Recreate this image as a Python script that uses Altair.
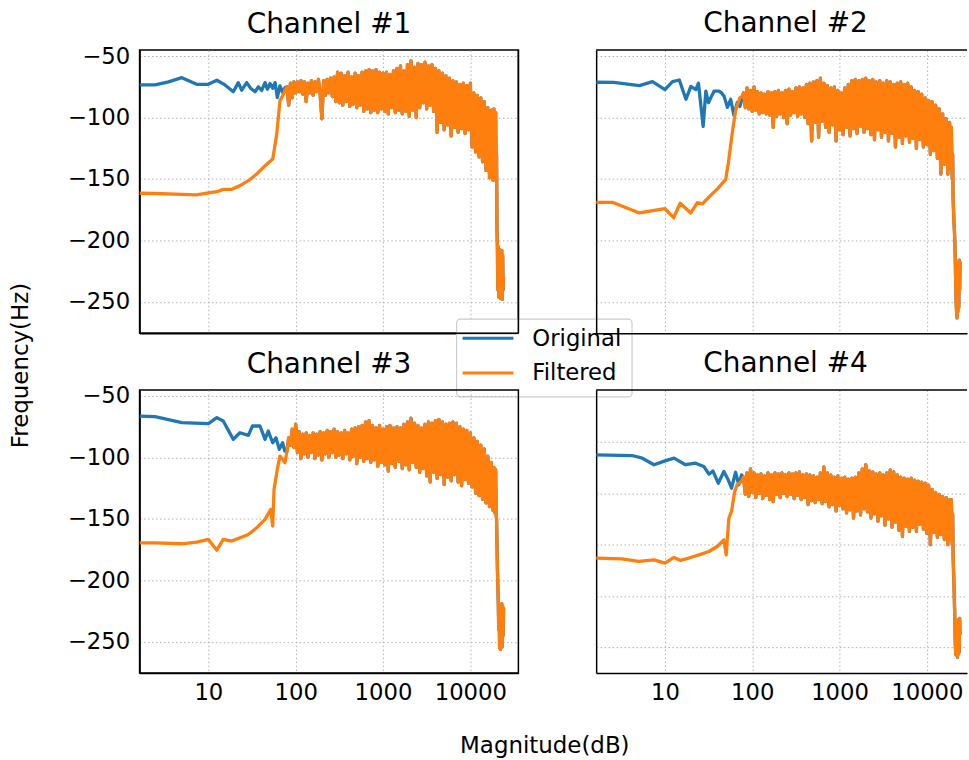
import altair as alt
import pandas as pd

# ---------------- data ----------------
SERIES = ["Original", "Filtered"]
COLORS = ["#1f77b4", "#ff7f0e"]
TITLES = ["Channel #1", "Channel #2", "Channel #3", "Channel #4"]
X_TICKS = [10, 100, 1000, 10000]
Y_TICKS = [-250, -200, -150, -100, -50]

# shared frequency grid of the dense band (Hz)
GRID_F = [79.43, 83.18, 87.10, 91.20, 95.50, 100.0, 104.7, 109.6, 114.8, 120.2,
          125.9, 131.8, 138.0, 144.5, 151.4, 158.5, 166.0, 173.8, 182.0, 190.5,
          199.5, 208.9, 218.8, 229.1, 239.9, 251.2, 263.0, 275.4, 288.4, 302.0,
          316.2, 331.1, 346.7, 363.1, 380.2, 398.1, 416.9, 436.5, 457.1, 478.6,
          501.2, 524.8, 549.5, 575.4, 602.6, 631.0, 660.7, 691.8, 724.4, 758.6,
          794.3, 831.8, 871.0, 912.0, 955.0, 1000, 1047, 1096, 1148, 1202,
          1259, 1318, 1380, 1445, 1514, 1585, 1660, 1738, 1820, 1905,
          1995, 2089, 2188, 2291, 2399, 2512, 2630, 2754, 2884, 3020,
          3162, 3311, 3467, 3631, 3802, 3981, 4169, 4365, 4571, 4786,
          5012, 5248, 5495, 5754, 6026, 6310, 6607, 6918, 7244, 7586,
          7943, 8318, 8710, 9120, 9550, 10000, 10471, 10965, 11482, 12023,
          12589, 13183, 13804, 14454, 15136, 15849, 16596, 17378, 18197]
# frequencies of the steep roll-off near Nyquist (Hz)
TAIL_F = [18621, 19055, 19498, 19724, 19953, 20184, 20417, 20654, 20893, 21135,
          21380, 21627, 21878, 22131, 22387, 22646, 22909, 23174, 23442, 23714, 23988]

# ---- Channel 1 ----
CH1_ORIG_F = [1.63, 2.45, 3.5, 4.96, 7.35, 10, 12.5, 15.5, 19.3, 22, 24.1, 27.5, 30.5,
              34.2, 37.4, 40.8, 44.6, 47.4, 50.9, 54.6, 58, 61.6, 66, 71, 75.4]
CH1_ORIG = [-73.5, -73.5, -71, -67.6, -73, -73, -69.7, -73.5, -79, -71.6, -77.8, -71.6, -76.2,
            -79, -75, -78, -71.6, -77, -72.4, -76.2, -71.6, -83.8, -74.3, -79.7, -75.7]
CH1_FILT_F = [1.63, 2.45, 4.96, 7.35, 10, 13, 14.8, 18.5, 23.1, 28.7, 35.8, 44.6, 54.6,
              60.7, 66, 71, 75.4]
CH1_FILT = [-161.6, -161.8, -162.5, -163, -161.4, -160, -158.4, -158.4, -155.4, -151.4, -146,
            -139.2, -133.8, -113.5, -86.5, -82.4, -78]
CH1_BAND = [-75, -90, -72, -84, -71, -80, -71, -79, -70, -81,
            -71, -87, -72, -80, -70, -82, -71, -79, -69, -81,
            -101, -70, -82, -69, -80, -68, -83, -67, -87, -63,
            -88, -64, -90, -66, -87, -63, -91, -67, -89, -64,
            -92, -66, -90, -63, -95, -62, -93, -61, -96, -62,
            -94, -61, -96, -63, -93, -64, -95, -63, -97, -65,
            -92, -62, -96, -60, -94, -58, -97, -62, -95, -57,
            -99, -54, -94, -59, -100, -56, -92, -57, -88, -55,
            -93, -58, -90, -57, -95, -60, -112, -62, -104, -64,
            -110, -66, -106, -68, -115, -70, -108, -71, -112, -73,
            -109, -72, -113, -74, -110, -72, -124, -80, -128, -82,
            -132, -84, -136, -87, -143, -92, -149, -94, -151]
CH1_TAIL = [-93, -150, -96, -151, -130, -190, -206, -240, -205, -246, -207, -244, -209,
            -247, -210, -245, -208, -248, -212, -240, -230]

# ---- Channel 2 ----
CH2_ORIG_F = [1.63, 2.6, 5.1, 7.2, 10, 12.2, 14.6, 17.4, 19.8, 22.6, 24.2, 27.4, 29.4,
              31.5, 33.5, 36.5, 41.7, 44.5, 47.5, 51.9, 56.6, 61.7, 67.4, 72, 76.9]
CH2_ORIG = [-71.3, -71.5, -74, -70.8, -77.3, -70.8, -69.5, -85.2, -74.7, -77.3, -72.1, -107.3,
            -78.6, -88, -83.9, -78.6, -78.6, -80, -82.6, -91.7, -85.2, -98.2, -87.8, -91, -83.9]
CH2_FILT_F = [1.63, 2.5, 5.1, 10, 12.6, 14.9, 19.8, 23.5, 26.9, 32, 39.9, 49.7, 53.5,
              59, 64.5, 72, 76.9]
CH2_FILT = [-169, -169, -177.6, -174.2, -181.5, -169.8, -177.6, -169.3, -170.3, -164.6, -158,
            -150.3, -136, -112.5, -94.3, -84, -82.6]
CH2_BAND = [-80, -92, -76, -93, -78, -95, -75, -94, -79, -97,
            -80, -96, -81, -97, -79, -98, -80, -108, -79, -99,
            -78, -97, -80, -100, -78, -105, -77, -98, -79, -96,
            -76, -99, -75, -97, -76, -100, -73, -105, -72, -119,
            -71, -104, -70, -116, -68, -103, -72, -108, -74, -112,
            -76, -106, -75, -119, -78, -110, -80, -114, -76, -108,
            -73, -115, -70, -109, -69, -113, -70, -107, -69, -112,
            -68, -109, -70, -114, -69, -118, -71, -110, -70, -116,
            -72, -112, -70, -119, -71, -113, -73, -124, -72, -116,
            -71, -121, -73, -115, -72, -120, -75, -117, -78, -125,
            -79, -118, -81, -124, -84, -122, -86, -130, -87, -127,
            -90, -133, -93, -146, -97, -138, -101, -146, -104]
CH2_TAIL = [-140, -108, -150, -130, -165, -175, -185, -192, -200, -215, -235, -250, -258,
            -263, -250, -258, -218, -255, -216, -240, -217]

# ---- Channel 3 ----
CH3_ORIG_F = [1.63, 2.45, 4.96, 10, 12.5, 14.8, 19.3, 23, 28.7, 32, 39, 44.6, 48.5,
              54.5, 59.5, 64.9, 70.8, 75]
CH3_ORIG = [-66.3, -66.8, -71.7, -72.5, -67.6, -70.4, -85.3, -79.9, -82, -74.4, -74.4, -85.3,
            -78.5, -88, -84, -93.4, -88, -94.8]
CH3_FILT_F = [1.63, 2.45, 4.96, 7.35, 10, 12.5, 14.8, 18.5, 23.1, 28.7, 35.8, 44.6, 51.6,
              54.6, 56.5, 61.6, 66, 71, 75.4]
CH3_FILT = [-169.4, -169.4, -170.2, -168.9, -166.7, -175.4, -166.7, -168, -165.3, -162.6,
            -157.2, -150.4, -142.3, -155.8, -126, -109.7, -98.9, -101.6, -104.3]
CH3_BAND = [-95, -84, -90, -77, -92, -73, -96, -79, -101, -81,
            -97, -80, -100, -82, -96, -80, -101, -81, -98, -79,
            -102, -80, -97, -78, -100, -79, -96, -77, -100, -79,
            -98, -80, -101, -78, -97, -80, -102, -77, -99, -76,
            -105, -75, -100, -74, -103, -71, -101, -70, -104, -74,
            -102, -76, -107, -74, -104, -77, -106, -75, -111, -74,
            -105, -76, -108, -75, -103, -76, -109, -73, -106, -71,
            -110, -68, -104, -72, -108, -74, -112, -76, -109, -73,
            -115, -71, -120, -72, -112, -70, -117, -69, -114, -71,
            -122, -73, -116, -72, -119, -71, -114, -72, -120, -75,
            -123, -77, -118, -78, -121, -80, -124, -84, -129, -87,
            -131, -90, -134, -93, -137, -99, -140, -104, -143]
CH3_TAIL = [-108, -145, -110, -146, -150, -170, -190, -205, -218, -240, -222, -255, -220,
            -256, -225, -250, -219, -254, -221, -245, -222]

# ---- Channel 4 ----
CH4_ORIG_F = [1.63, 4.2, 5.5, 7.5, 10, 12.7, 17.2, 22.4, 27.9, 31.9, 35.4, 40.8, 47.3,
              53, 57.9, 64.4, 70.1, 75.3]
CH4_ORIG = [-62.4, -63, -65.6, -72, -68.2, -65.6, -72, -70.5, -73.7, -81.2, -78, -90, -78.6,
            -86.7, -94.9, -79.3, -91.6, -81.9]
CH4_FILT_F = [1.63, 3.2, 5.0, 7.5, 10, 12.7, 15.1, 18.8, 24.5, 31.9, 39.7, 47.3, 50.3,
              54, 57.9, 63, 67, 75.3]
CH4_FILT = [-163.2, -163.8, -166.4, -164.8, -168, -162.5, -165.4, -163, -160, -156.7, -151.8,
            -145.3, -160, -124, -117.6, -98, -91.6, -88.4]
CH4_BAND = [-84, -101, -80, -103, -76, -99, -80, -104, -82, -100,
            -81, -105, -83, -102, -80, -106, -82, -108, -80, -101,
            -81, -104, -80, -100, -82, -103, -80, -101, -81, -105,
            -80, -102, -79, -106, -82, -104, -81, -111, -82, -107,
            -83, -109, -84, -106, -80, -110, -74, -108, -80, -113,
            -82, -111, -84, -117, -83, -112, -85, -115, -84, -119,
            -86, -116, -85, -124, -84, -117, -80, -121, -76, -115,
            -72, -118, -78, -124, -79, -120, -81, -127, -80, -122,
            -82, -131, -80, -125, -77, -133, -79, -128, -82, -136,
            -84, -142, -85, -132, -86, -137, -85, -133, -87, -137,
            -88, -130, -89, -135, -90, -139, -92, -150, -96, -138,
            -99, -143, -101, -140, -103, -145, -104, -150, -106]
CH4_TAIL = [-145, -106, -150, -120, -160, -175, -189, -205, -222, -245, -257, -224, -258,
            -226, -260, -225, -257, -223, -255, -222, -238]

# ---------------- build tables ----------------
def build(orig_f, orig_v, filt_f, filt_v, band, tail):
    assert len(orig_f) == len(orig_v) and len(filt_f) == len(filt_v)
    assert len(band) == len(GRID_F) and len(tail) == len(TAIL_F), (len(band), len(tail))
    rows = []
    for name, lf, lv in (("Original", orig_f, orig_v), ("Filtered", filt_f, filt_v)):
        for f, v in zip(list(lf) + GRID_F + TAIL_F, list(lv) + band + tail):
            rows.append({"series": name, "freq": f, "value": v})
    return pd.DataFrame(rows)

DFS = [
    build(CH1_ORIG_F, CH1_ORIG, CH1_FILT_F, CH1_FILT, CH1_BAND, CH1_TAIL),
    build(CH2_ORIG_F, CH2_ORIG, CH2_FILT_F, CH2_FILT, CH2_BAND, CH2_TAIL),
    build(CH3_ORIG_F, CH3_ORIG, CH3_FILT_F, CH3_FILT, CH3_BAND, CH3_TAIL),
    build(CH4_ORIG_F, CH4_ORIG, CH4_FILT_F, CH4_FILT, CH4_BAND, CH4_TAIL),
]

# ---------------- styling / layout ----------------
FONT = "DejaVu Sans"
TICK_FS = 22.8
W_LEFT, W_RIGHT, H = 380, 372, 284
X_DOM_LEFT = [1.63, 35500]
X_DOM_RIGHT = [1.63, 28800]
Y_DOM = [-275.4, -45.1]
Y_DOM_CH4 = [-275.4, 1.0]

color_scale = alt.Scale(domain=SERIES, range=COLORS)


def panel(idx, width, xdom, ydom, left, bottom, legend=False):
    df = DFS[idx]
    x_kw = dict(values=X_TICKS, format="d", labels=bottom, ticks=False, tickSize=0,
                grid=True, gridColor="#b0b0b0", gridDash=[1.5, 2.5], gridWidth=1,
                domain=True, domainColor="black", domainWidth=1.5,
                labelFontSize=TICK_FS, labelColor="black", labelPadding=8,
                labelOverlap=False, labelFont=FONT)
    y_kw = dict(values=Y_TICKS, format="d", labels=left, ticks=False, tickSize=0,
                grid=True, gridColor="#b0b0b0", gridDash=[1.5, 2.5], gridWidth=1,
                domain=True, domainColor="black", domainWidth=1.5,
                labelFontSize=TICK_FS, labelColor="black", labelPadding=10,
                labelOverlap=False, labelFont=FONT)
    x_title = None
    y_title = None
    if idx == 2:
        x_title = "Magnitude(dB)"
        x_kw.update(titleX=406, titleY=80, titleAlign="center", titleBaseline="alphabetic",
                    titleFontSize=23, titleFontWeight="normal", titleColor="black",
                    titleFont=FONT)
    if idx == 0:
        y_title = "Frequency(Hz)"
        y_kw.update(titleX=-112, titleY=316, titleAngle=270, titleAlign="center",
                    titleBaseline="alphabetic", titleFontSize=23, titleFontWeight="normal",
                    titleColor="black", titleFont=FONT)

    x = alt.X("freq:Q", title=x_title, scale=alt.Scale(type="log", domain=xdom, nice=False),
              axis=alt.Axis(**x_kw))
    y = alt.Y("value:Q", title=y_title, scale=alt.Scale(domain=ydom, nice=False, zero=False),
              axis=alt.Axis(**y_kw))
    base = alt.Chart(df).mark_line(strokeWidth=3.3, strokeJoin="round", clip=True).encode(
        x=x, y=y, color=alt.Color("series:N", scale=color_scale, legend=None))
    layers = [
        base.transform_filter(alt.datum.series == "Original"),
        base.transform_filter(alt.datum.series == "Filtered"),
    ]
    one = alt.InlineData(values=[{"k": 1}])
    if not left:
        # top border of the right-hand panels (their right edge is cut by the frame)
        layers.append(alt.Chart(one).mark_rule(color="black", strokeWidth=1.5).encode(
            x=alt.value(0), x2=alt.value(width), y=alt.value(0)))
    if legend:
        # legend box placed between the four panels (coordinates relative to panel 1)
        leg = pd.DataFrame({"series": SERIES})
        layers.append(alt.Chart(one).mark_rect(
            fill="white", fillOpacity=0.8, stroke="#cccccc", strokeWidth=1.2,
            cornerRadius=4).encode(x=alt.value(318), x2=alt.value(494),
                                   y=alt.value(270), y2=alt.value(348)))
        for name, ysym, ytxt in (("Original", 289, 297), ("Filtered", 324, 331)):
            sub = alt.Chart(leg).transform_filter(alt.datum.series == name)
            layers.append(sub.mark_rule(strokeWidth=3).encode(
                x=alt.value(324), x2=alt.value(375), y=alt.value(ysym),
                color=alt.Color("series:N", scale=color_scale, legend=None)))
            layers.append(sub.mark_text(align="left", baseline="alphabetic", fontSize=TICK_FS,
                                        font=FONT, color="black").encode(
                x=alt.value(394), y=alt.value(ytxt), text="series:N"))
        # panel frame stays visible through the legend box
        layers.append(alt.Chart(one).mark_rule(color="black", strokeWidth=1.5).encode(
            x=alt.value(width), y=alt.value(0), y2=alt.value(H)))
        layers.append(alt.Chart(one).mark_rule(color="black", strokeWidth=1.5).encode(
            x=alt.value(0), x2=alt.value(width), y=alt.value(H)))

    dx = 4 if not left else 0
    toff = -16 if left else -11
    view = alt.ViewBackground(stroke="black", strokeWidth=1.5) if left else \
        alt.ViewBackground(stroke="transparent")
    return alt.layer(*layers).properties(
        width=width, height=H, view=view,
        title=alt.TitleParams(TITLES[idx], fontSize=28, fontWeight="normal", color="black",
                              font=FONT, anchor="middle", frame="group",
                              baseline="alphabetic", offset=toff, dx=dx))


ch1 = panel(0, W_LEFT, X_DOM_LEFT, Y_DOM, left=True, bottom=False, legend=True)
ch2 = panel(1, W_RIGHT, X_DOM_RIGHT, Y_DOM, left=False, bottom=False)
ch3 = panel(2, W_LEFT, X_DOM_LEFT, Y_DOM, left=True, bottom=True)
ch4 = panel(3, W_RIGHT, X_DOM_RIGHT, Y_DOM_CH4, left=False, bottom=True)

chart = alt.concat(ch1, ch2, ch3, ch4, columns=2,
                   spacing={"row": 57, "column": 78}, bounds="flush").properties(
    padding={"left": 9, "top": 8, "right": 0, "bottom": 0},
    background="white",
).configure(font=FONT)

chart.save("out.html", embed_options={"renderer": "svg", "actions": False})
